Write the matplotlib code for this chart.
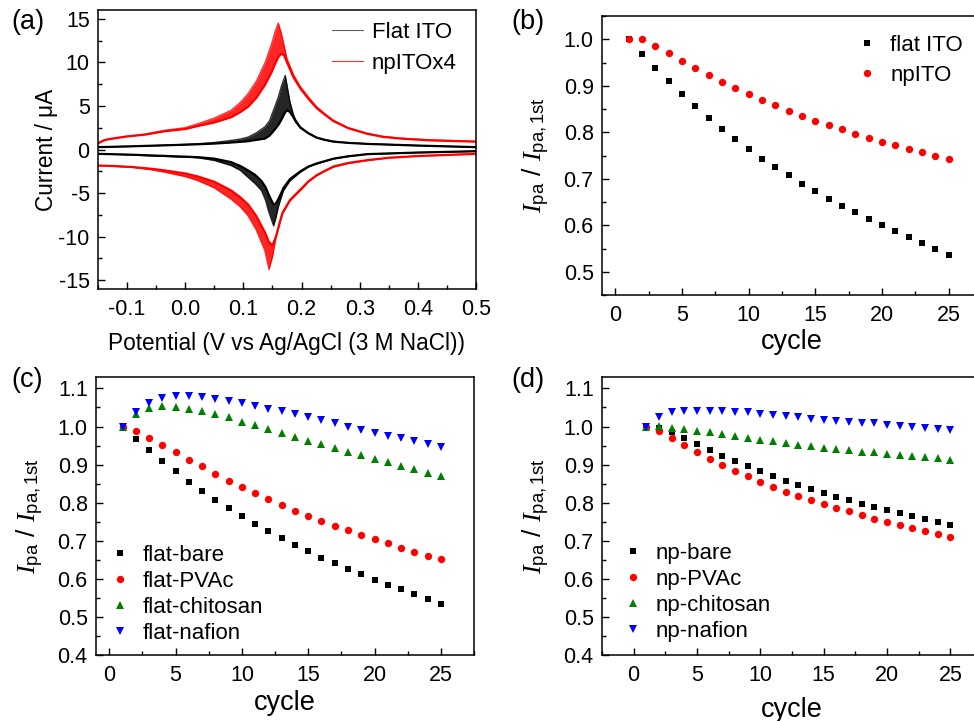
import matplotlib
matplotlib.use("Agg")
import matplotlib.pyplot as plt
from matplotlib.lines import Line2D
from matplotlib.ticker import MultipleLocator, FormatStrFormatter

plt.rcParams['font.family'] = ['Liberation Sans', 'DejaVu Sans']
plt.rcParams['mathtext.fontset'] = 'custom'
plt.rcParams['mathtext.rm'] = 'Liberation Sans'
plt.rcParams['mathtext.it'] = 'Liberation Serif:italic'
plt.rcParams['mathtext.sf'] = 'Liberation Sans'

# ---------------- Panel (a): CV data (first cycle / last cycle envelopes) ----------------
red_an_E = [-0.15, -0.14, -0.13, -0.1, -0.07, -0.035, 0.0, 0.022, 0.05, 0.079, 0.095, 0.108, 0.122, 0.137,
            0.148, 0.155, 0.16, 0.165, 0.17, 0.175, 0.186, 0.198, 0.212, 0.226, 0.24, 0.255, 0.28, 0.313,
            0.34, 0.37, 0.42, 0.5]
red_an_first = [0.7, 1.05, 1.2, 1.5, 1.75, 2.2, 2.5, 2.96, 3.6, 4.5, 5.4, 6.4, 7.8, 9.9,
                12.0, 13.6, 14.5, 13.4, 11.9, 10.4, 8.6, 7.2, 6.0, 4.9, 4.1, 3.35, 2.5, 1.85,
                1.5, 1.3, 1.1, 0.93]
red_an_last = [0.7, 1.05, 1.2, 1.5, 1.7, 2.1, 2.35, 2.7, 3.1, 3.7, 4.3, 4.9, 5.9, 7.4,
               8.8, 9.9, 10.6, 11.0, 10.8, 10.0, 8.3, 7.0, 5.8, 4.75, 4.0, 3.25, 2.45, 1.8,
               1.45, 1.25, 1.05, 0.9]

blk_an_E = [-0.15, -0.1, -0.05, 0.0, 0.022, 0.05, 0.079, 0.095, 0.108, 0.122, 0.137, 0.145, 0.154, 0.16,
            0.166, 0.172, 0.176, 0.18, 0.186, 0.19, 0.198, 0.212, 0.226, 0.24, 0.255, 0.28, 0.313, 0.4, 0.5]
blk_an_first = [0.27, 0.35, 0.45, 0.58, 0.66, 0.8, 1.04, 1.2, 1.42, 1.9, 2.6, 3.3, 4.9, 6.0,
                7.4, 8.5, 7.0, 5.5, 4.0, 3.4, 2.6, 1.9, 1.4, 1.15, 0.93, 0.78, 0.66, 0.45, 0.27]
blk_an_last = [0.27, 0.35, 0.45, 0.55, 0.6, 0.68, 0.8, 0.88, 0.95, 1.1, 1.25, 1.6, 2.3, 2.8,
               3.5, 4.3, 4.5, 4.3, 3.7, 3.2, 2.5, 1.85, 1.35, 1.1, 0.9, 0.76, 0.64, 0.45, 0.27]

red_ca_E = [-0.15, -0.12, -0.093, -0.06, -0.035, 0.0, 0.022, 0.05, 0.079, 0.095, 0.108, 0.122, 0.137,
            0.144, 0.15, 0.156, 0.162, 0.167, 0.18, 0.198, 0.212, 0.226, 0.24, 0.255, 0.28, 0.313,
            0.35, 0.4, 0.5]
red_ca_first = [-1.84, -1.95, -2.03, -2.3, -2.6, -3.1, -3.57, -4.4, -5.7, -6.6, -7.6, -9.2, -11.6,
                -13.76, -12.3, -10.1, -8.6, -7.4, -5.9, -4.7, -3.7, -3.0, -2.5, -2.0, -1.6, -1.26,
                -0.95, -0.75, -0.5]
red_ca_last = [-1.84, -1.9, -2.0, -2.2, -2.4, -2.75, -3.1, -3.7, -4.7, -5.5, -6.3, -7.6, -9.5,
               -10.6, -11.0, -10.0, -8.5, -7.3, -5.8, -4.6, -3.65, -2.95, -2.45, -1.95, -1.55, -1.22,
               -0.95, -0.75, -0.5]

blk_ca_E = [-0.15, -0.1, -0.05, 0.0, 0.022, 0.05, 0.079, 0.095, 0.108, 0.12, 0.131, 0.138, 0.143, 0.148,
            0.152, 0.156, 0.16, 0.165, 0.169, 0.18, 0.198, 0.212, 0.226, 0.255, 0.28, 0.313, 0.4, 0.5]
blk_ca_first = [-0.5, -0.6, -0.75, -0.88, -0.95, -1.25, -1.84, -2.4, -3.2, -3.9, -4.7, -5.8, -7.0, -8.0,
                -8.76, -7.8, -6.6, -5.5, -4.7, -3.6, -2.6, -2.0, -1.65, -1.07, -0.8, -0.55, -0.35, -0.2]
blk_ca_last = [-0.5, -0.58, -0.7, -0.82, -0.88, -1.05, -1.45, -1.9, -2.4, -2.9, -3.6, -4.3, -5.1, -5.8,
               -6.3, -6.2, -5.7, -5.0, -4.4, -3.4, -2.5, -1.95, -1.6, -1.05, -0.78, -0.53, -0.35, -0.2]

# ---------------- Panels (b)-(d): normalized peak current vs cycle ----------------
cycles = list(range(1, 26))
flat_ito = [1.0, 0.968, 0.939, 0.910, 0.882, 0.856, 0.831, 0.808, 0.785, 0.764, 0.743, 0.725, 0.707,
            0.689, 0.673, 0.657, 0.641, 0.628, 0.613, 0.600, 0.587, 0.574, 0.561, 0.550, 0.537]
np_ito = [1.0, 1.0, 0.986, 0.971, 0.954, 0.938, 0.923, 0.909, 0.895, 0.882, 0.869, 0.858, 0.846,
          0.836, 0.825, 0.816, 0.806, 0.797, 0.788, 0.780, 0.772, 0.764, 0.758, 0.750, 0.742]

flat_bare = [1.0, 0.968, 0.938, 0.910, 0.883, 0.855, 0.831, 0.808, 0.785, 0.764, 0.743, 0.725, 0.706,
             0.689, 0.672, 0.656, 0.642, 0.626, 0.612, 0.598, 0.585, 0.572, 0.559, 0.547, 0.535]
flat_pvac = [1.0, 0.988, 0.969, 0.951, 0.933, 0.913, 0.895, 0.876, 0.858, 0.842, 0.825, 0.809, 0.794,
             0.779, 0.766, 0.753, 0.740, 0.728, 0.715, 0.704, 0.693, 0.681, 0.671, 0.661, 0.651]
flat_chitosan = [1.0, 1.034, 1.048, 1.054, 1.051, 1.047, 1.040, 1.033, 1.024, 1.013, 1.004, 0.993, 0.983,
                 0.973, 0.962, 0.953, 0.943, 0.933, 0.924, 0.914, 0.906, 0.897, 0.888, 0.879, 0.871]
flat_nafion = [1.0, 1.039, 1.062, 1.074, 1.079, 1.080, 1.078, 1.073, 1.067, 1.061, 1.054, 1.047, 1.040,
               1.033, 1.025, 1.016, 1.008, 1.000, 0.991, 0.983, 0.976, 0.969, 0.962, 0.954, 0.945]

np_bare = [1.0, 0.995, 0.986, 0.970, 0.954, 0.938, 0.923, 0.910, 0.895, 0.883, 0.869, 0.857, 0.847,
           0.836, 0.825, 0.815, 0.806, 0.796, 0.788, 0.780, 0.772, 0.764, 0.757, 0.749, 0.742]
np_pvac = [1.0, 0.989, 0.970, 0.951, 0.932, 0.915, 0.898, 0.883, 0.870, 0.855, 0.842, 0.829, 0.818,
           0.807, 0.796, 0.787, 0.777, 0.768, 0.758, 0.750, 0.742, 0.733, 0.726, 0.718, 0.711]
np_chitosan = [1.0, 1.002, 0.997, 0.993, 0.989, 0.986, 0.980, 0.975, 0.969, 0.965, 0.961, 0.956, 0.952,
               0.948, 0.943, 0.941, 0.938, 0.934, 0.932, 0.929, 0.926, 0.923, 0.920, 0.917, 0.913]
np_nafion = [1.0, 1.026, 1.038, 1.042, 1.042, 1.042, 1.041, 1.039, 1.037, 1.034, 1.030, 1.027, 1.024,
             1.021, 1.018, 1.015, 1.012, 1.010, 1.008, 1.004, 1.002, 0.999, 0.997, 0.993, 0.990]

RED = '#ff0000'
GREEN = '#008000'
BLUE = '#0000ff'
BLACK = '#000000'

W, H = 974, 721
fig = plt.figure(figsize=(W / 100, H / 100), dpi=100)


def ax_at(left, top, width, height):
    return fig.add_axes([left / W, 1 - (top + height) / H, width / W, height / H])


TICK_FS = 15.5
LABEL_FS = 16.3
CYC_FS = 19.5
YLAB_FS = 19
PANEL_FS = 19.5


def style(ax):
    for s in ax.spines.values():
        s.set_linewidth(1.1)
    ax.tick_params(which='both', direction='in', top=False, right=False, labelsize=TICK_FS, width=1.0)
    ax.tick_params(which='major', length=5)
    ax.tick_params(which='minor', length=3)
    ax.tick_params(axis='y', pad=6)
    ax.tick_params(axis='x', pad=7)


# ---- (a)
axa = ax_at(98, 10, 378, 279)
for E, f, l, c in [(red_an_E, red_an_first, red_an_last, RED),
                   (red_ca_E, red_ca_first, red_ca_last, RED),
                   (blk_an_E, blk_an_first, blk_an_last, BLACK),
                   (blk_ca_E, blk_ca_first, blk_ca_last, BLACK)]:
    axa.fill_between(E, f, l, color=c, alpha=0.85, lw=0)
    axa.plot(E, f, color=c, lw=1.0, alpha=0.8)
    axa.plot(E, l, color=c, lw=1.6)
axa.set_xlim(-0.15, 0.5)
axa.set_ylim(-16, 16)
axa.xaxis.set_minor_locator(MultipleLocator(0.05))
axa.yaxis.set_minor_locator(MultipleLocator(2.5))
axa.set_xticks([-0.1, 0.0, 0.1, 0.2, 0.3, 0.4, 0.5])
axa.set_xticklabels(['-0.1', '0.0', '0.1', '0.2', '0.3', '0.4', '0.5'])
axa.set_yticks([-15, -10, -5, 0, 5, 10, 15])
axa.set_yticklabels(['-15', '-10', '-5', '0', '5', '10', '15'])
style(axa)
axa.set_xlabel('Potential (V vs Ag/AgCl (3 M NaCl))', fontsize=LABEL_FS, labelpad=9)
axa.set_ylabel('Current / μA', fontsize=LABEL_FS, labelpad=0)
ha1 = Line2D([], [], color='#606060', lw=0.8)
ha2 = Line2D([], [], color='#ff3030', lw=0.8)
axa.legend(handles=[ha1, ha2], labels=['Flat ITO', 'npITOx4'], loc='center left', frameon=False,
           fontsize=TICK_FS + 0.5, handlelength=1.4, handletextpad=0.4, labelspacing=0.45,
           bbox_to_anchor=(0.595, 0.864), borderaxespad=0)
fig.text(11 / W, 1 - 22 / H, '(a)', fontsize=PANEL_FS, va='center', ha='left')

ylab = r'$I_{\rm pa}$ / $I_{\rm pa,1st}$'

# ---- (b)
axb = ax_at(602, 16, 380, 279)
axb.plot(cycles, flat_ito, 's', color=BLACK, ms=4.5, mew=0, label='flat ITO')
axb.plot(cycles, np_ito, 'o', color=RED, ms=5.3, mew=0, label='npITO')
axb.set_xlim(-1, 27.5)
axb.set_ylim(0.45, 1.05)
axb.xaxis.set_major_locator(MultipleLocator(5))
axb.xaxis.set_minor_locator(MultipleLocator(2.5))
axb.yaxis.set_major_locator(MultipleLocator(0.1))
axb.yaxis.set_minor_locator(MultipleLocator(0.05))
axb.yaxis.set_major_formatter(FormatStrFormatter('%.1f'))
style(axb)
axb.set_xlabel('cycle', fontsize=CYC_FS, labelpad=2)
axb.set_ylabel(ylab, fontsize=YLAB_FS, labelpad=8)
axb.legend(loc='center left', frameon=False, fontsize=TICK_FS + 0.5, handlelength=1.0,
           handletextpad=0.55, labelspacing=0.4, borderaxespad=0, bbox_to_anchor=(0.645, 0.84))
fig.text((490 + 21) / W, 1 - 22 / H, '(b)', fontsize=PANEL_FS, va='center', ha='left')

# ---- (c)
axc = ax_at(96, 377, 378, 278)
axc.plot(cycles, flat_bare, 's', color=BLACK, ms=4.5, mew=0, label='flat-bare')
axc.plot(cycles, flat_pvac, 'o', color=RED, ms=5.3, mew=0, label='flat-PVAc')
axc.plot(cycles, flat_chitosan, '^', color=GREEN, ms=6, mew=0, label='flat-chitosan')
axc.plot(cycles, flat_nafion, 'v', color=BLUE, ms=6, mew=0, label='flat-nafion')
axc.set_xlim(-1, 27.5)
axc.set_ylim(0.4, 1.13)
axc.xaxis.set_major_locator(MultipleLocator(5))
axc.xaxis.set_minor_locator(MultipleLocator(2.5))
axc.yaxis.set_major_locator(MultipleLocator(0.1))
axc.yaxis.set_minor_locator(MultipleLocator(0.05))
axc.yaxis.set_major_formatter(FormatStrFormatter('%.1f'))
style(axc)
axc.set_xlabel('cycle', fontsize=CYC_FS, labelpad=3)
axc.set_ylabel(ylab, fontsize=YLAB_FS, labelpad=8)
axc.legend(loc='center left', frameon=False, fontsize=TICK_FS + 0.5, handlelength=1.0,
           handletextpad=0.55, labelspacing=0.22, borderaxespad=0, bbox_to_anchor=(0.01, 0.218))
fig.text(11 / W, 1 - 380 / H, '(c)', fontsize=PANEL_FS, va='center', ha='left')

# ---- (d)
axd = ax_at(602, 377, 380, 278)
axd.plot(cycles, np_bare, 's', color=BLACK, ms=4.5, mew=0, label='np-bare')
axd.plot(cycles, np_pvac, 'o', color=RED, ms=5.3, mew=0, label='np-PVAc')
axd.plot(cycles, np_chitosan, '^', color=GREEN, ms=6, mew=0, label='np-chitosan')
axd.plot(cycles, np_nafion, 'v', color=BLUE, ms=6, mew=0, label='np-nafion')
axd.set_xlim(-2.5, 27.5)
axd.set_ylim(0.4, 1.13)
axd.xaxis.set_major_locator(MultipleLocator(5))
axd.xaxis.set_minor_locator(MultipleLocator(2.5))
axd.yaxis.set_major_locator(MultipleLocator(0.1))
axd.yaxis.set_minor_locator(MultipleLocator(0.05))
axd.yaxis.set_major_formatter(FormatStrFormatter('%.1f'))
style(axd)
axd.set_xlabel('cycle', fontsize=CYC_FS, labelpad=8)
axd.set_ylabel(ylab, fontsize=YLAB_FS, labelpad=8)
axd.legend(loc='center left', frameon=False, fontsize=TICK_FS + 0.5, handlelength=1.0,
           handletextpad=0.55, labelspacing=0.22, borderaxespad=0, bbox_to_anchor=(0.028, 0.226))
fig.text((490 + 21) / W, 1 - 380 / H, '(d)', fontsize=PANEL_FS, va='center', ha='left')

fig.savefig('out.png', dpi=100)
